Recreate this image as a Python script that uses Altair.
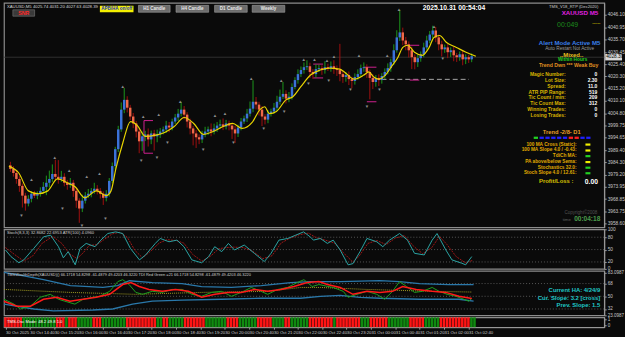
import altair as alt
import pandas as pd

# ---------------- main price data (XAUUSD M5) ----------------
first_open = 3983.0
closes = [
    3981.5, 3979.8, 3977.3, 3974.4, 3970.3, 3967.0, 3969.0, 3971.1, 3970.3, 3971.1,
    3972.3, 3974.0, 3975.7, 3977.3, 3979.4, 3978.2, 3977.3, 3978.2, 3975.7, 3974.8,
    3975.7, 3972.3, 3968.2, 3964.9, 3968.2, 3970.3, 3971.1, 3972.3, 3973.2, 3972.3,
    3971.1, 3969.4, 3971.1, 3976.5, 3982.7, 3989.8, 3998.1, 4006.4, 4010.5, 4007.2,
    4003.5, 4000.6, 3997.2, 3993.1, 3995.2, 3996.0, 3993.9, 3996.4, 3995.2, 3996.0,
    3997.2, 3998.1, 3999.7, 3998.9, 4001.4, 4003.1, 4004.7, 4006.4, 4004.3, 4001.4,
    3998.5, 3996.4, 3994.8, 3993.9, 3996.0, 3997.2, 3998.1, 3997.2, 3998.5, 3999.7,
    4000.2, 3999.3, 4000.6, 3999.7, 3998.1, 3996.4, 3998.9, 4001.4, 4002.7, 4004.7,
    4006.8, 4009.7, 4008.5, 4006.4, 4003.5, 4002.2, 4004.7, 4005.6, 4007.2, 4009.7,
    4011.8, 4013.0, 4011.0, 4011.8, 4015.9, 4018.8, 4021.3, 4023.0, 4024.2, 4024.6,
    4022.2, 4021.3, 4023.4, 4023.8, 4023.0, 4024.2, 4023.8, 4024.6, 4023.4, 4023.0,
    4021.3, 4020.1, 4020.9, 4019.2, 4018.4, 4020.1, 4021.3, 4023.8, 4024.2, 4022.2,
    4019.7, 4018.0, 4019.7, 4018.8, 4020.5, 4022.2, 4023.8, 4026.3, 4031.3, 4036.7,
    4038.8, 4035.4, 4033.8, 4031.3, 4028.4, 4026.3, 4028.0, 4029.6, 4032.5, 4035.4,
    4037.9, 4039.6, 4036.7, 4033.8, 4031.7, 4032.5, 4030.5, 4031.3, 4029.2, 4028.4,
    4029.6, 4027.5, 4028.4, 4027.5, 4028.8,
]
wick_up = [
    1.5, 1.2, 1.0, 1.2, 1.0, 1.2, 1.5, 1.0, 1.2, 1.0,
    1.5, 2.0, 3.0, 3.5, 4.0, 6.0, 7.0, 2.5, 1.5, 1.2,
    2.0, 1.2, 1.0, 1.0, 2.5, 1.5, 2.0, 1.2, 2.5, 1.5,
    1.2, 1.0, 1.5, 1.2, 1.5, 1.0, 1.5, 3.0, 5.0, 1.5,
    1.2, 1.5, 1.0, 1.2, 2.0, 1.5, 2.5, 1.2, 1.5, 2.0,
    1.5, 1.2, 2.0, 1.5, 1.2, 1.5, 2.0, 3.3, 1.5, 1.0,
    1.2, 1.0, 1.5, 1.2, 1.5, 2.0, 1.2, 2.5, 2.0, 1.5,
    2.0, 2.5, 1.5, 1.2, 1.0, 1.5, 1.2, 1.5, 1.2, 2.0,
    3.0, 9.0, 2.0, 1.2, 1.5, 1.0, 1.5, 1.2, 2.0, 2.5,
    3.0, 5.0, 1.5, 2.0, 1.5, 1.2, 2.0, 1.5, 2.0, 2.5,
    1.5, 1.2, 2.0, 1.5, 1.2, 2.5, 1.5, 2.0, 2.5, 1.5,
    11.0, 1.5, 1.2, 1.5, 1.0, 1.5, 2.0, 1.5, 2.0, 1.2,
    1.0, 1.5, 1.2, 1.5, 1.2, 1.5, 2.0, 1.5, 2.5, 3.0,
    9.5, 2.0, 1.5, 1.2, 1.5, 1.2, 1.5, 1.2, 2.0, 2.0,
    1.5, 2.0, 1.5, 1.2, 1.5, 1.2, 1.5, 1.2, 1.5, 1.0,
    1.2, 1.5, 1.2, 1.0, 1.2,
]
wick_dn = [
    1.2, 1.5, 2.0, 2.5, 5.0, 3.0, 1.2, 1.5, 1.0, 1.5,
    1.2, 1.0, 3.5, 2.0, 1.2, 1.5, 2.0, 1.2, 1.5, 2.0,
    1.2, 2.5, 3.0, 6.0, 1.5, 1.2, 1.0, 1.5, 1.2, 1.5,
    2.0, 3.0, 1.5, 1.2, 1.0, 1.5, 1.2, 1.0, 1.5, 2.0,
    1.5, 2.0, 2.5, 5.0, 4.0, 2.0, 3.0, 2.0, 6.0, 2.5,
    1.5, 1.2, 1.5, 2.0, 1.2, 1.0, 1.5, 1.2, 2.0, 2.5,
    2.5, 5.0, 4.5, 2.0, 1.5, 1.2, 1.5, 2.0, 1.2, 1.5,
    1.2, 1.5, 1.2, 2.0, 4.0, 4.0, 1.5, 1.2, 1.0, 1.5,
    1.2, 1.5, 2.0, 2.5, 4.0, 2.0, 1.5, 1.2, 1.0, 1.5,
    1.2, 1.0, 2.0, 1.5, 1.2, 1.0, 1.5, 1.2, 1.5, 1.2,
    2.5, 2.0, 1.5, 1.2, 2.0, 1.5, 1.2, 1.5, 2.0, 2.5,
    3.0, 2.5, 2.0, 2.5, 3.0, 1.5, 1.2, 1.0, 1.5, 2.5,
    9.0, 3.0, 2.0, 2.5, 1.5, 1.2, 1.0, 1.5, 1.2, 1.0,
    1.5, 2.0, 2.5, 3.0, 5.0, 3.0, 2.0, 1.5, 1.2, 1.0,
    1.2, 1.5, 2.0, 2.5, 3.0, 1.5, 2.5, 2.0, 2.5, 2.0,
    1.5, 2.5, 2.0, 1.5, 1.2,
]

# yellow moving average (key points: bar index, price)
ma_idx = [-0.5, 2.8, 6, 9.3, 12.5, 15.7, 19, 21.6, 24.8, 28.7, 32, 33.6, 35.2, 37.5, 40.1,
          42.4, 45, 48.2, 51.5, 54.7, 58, 61.2, 64.4, 67.7, 71, 74.2, 77.4, 80.7, 83.3, 84.9,
          86.5, 88.8, 92, 94.3, 96.9, 100.2, 103.4, 106.7, 109.9, 111.5, 114.8, 118, 119.6,
          121.3, 122.9, 125.2, 127.1, 129.4, 131, 132.6, 134.9, 137.5, 139.8, 141.4, 143.3,
          145.6, 148.9, 152.1, 155.4]
ma_val = [3982.7, 3979.8, 3972.3, 3971.1, 3972.3, 3977.3, 3975.7, 3974.0, 3969.4, 3972.3,
          3970.3, 3972.3, 3981.5, 3992.3, 4001.4, 3999.7, 3995.2, 3995.6, 3996.8, 3999.3,
          4003.1, 4000.6, 3996.0, 3997.2, 3999.3, 4000.6, 3998.5, 4001.0, 4006.4, 4007.6,
          4004.7, 4005.6, 4010.5, 4011.8, 4015.9, 4020.9, 4023.0, 4023.8, 4023.4, 4022.2,
          4019.2, 4020.9, 4022.2, 4020.1, 4019.2, 4020.9, 4024.2, 4028.4, 4032.5, 4033.4,
          4030.5, 4029.2, 4032.5, 4036.7, 4037.5, 4034.6, 4032.5, 4030.5, 4028.8]

# fractal arrows
up_idx = [7, 14.8, 19.6, 25.5, 29.7, 37.5, 44.3, 49.5, 56.7, 68.3, 71.6, 80.4, 90.4, 97.9,
          101.5, 105.7, 108, 116.4, 125.8, 129.7, 141.4]
up_price = [3976.9, 3986.0, 3980.6, 3978.2, 3979.4, 4015.9, 4003.5, 4004.3, 4009.7, 4003.9,
            4004.7, 4019.2, 4018.4, 4027.1, 4027.1, 4026.7, 4028.4, 4028.8, 4028.8, 4048.3, 4041.2]
dn_idx = [3.7, 17.4, 23.9, 31.7, 43.7, 48.9, 52.4, 64.4, 74.5, 84.6, 91.4, 99.5, 106.3,
          113.5, 119, 123.2, 144.3]
dn_price = [3961.6, 3964.5, 3957.4, 3960.7, 3984.8, 3986.0, 3992.3, 3989.4, 3992.3, 3998.1,
            4005.6, 4017.2, 4018.4, 4014.7, 4007.6, 4014.7, 4027.5]

# magenta range markers
seg_x1 = [44.6, 44.6, 101.1, 101.1, 118.0, 119.0, 132.6, 133.3]
seg_x2 = [47.6, 47.6, 104.4, 104.4, 122.2, 122.2, 136.5, 136.5]
seg_y = [4001.8, 3988.1, 4025.5, 4019.7, 4024.2, 4009.7, 4033.4, 4018.8]

dash_from, dash_to, dash_level = 123.9, 153.1, 4019.1
current_price = 4028.39

price_ticks = [4046.10, 4040.95, 4035.70, 4030.45, 4025.40, 4020.30, 4015.20, 4010.10,
               4004.80, 3999.75, 3994.65, 3989.40, 3984.30, 3979.20, 3973.95, 3968.85,
               3963.75, 3958.60]

# ---------------- stochastic ----------------
stoch_idx = [0, 1.8, 4.4, 6, 9.3, 12.5, 14.8, 17.4, 19, 20.6, 22.9, 24.5, 26.5, 29.4, 31.3,
             33.6, 36.2, 38.5, 41, 44, 46, 49.2, 50.8, 53.7, 56.3, 58.6, 61.2, 64.4, 66.7,
             68.7, 71, 73.2, 75.2, 78.4, 81.7, 85, 87.2, 89.8, 92.7, 95.3, 97.9, 100.2,
             101.1, 103.4, 105.7, 107.6, 109.9, 112.5, 114.1, 116.4, 118.7, 121.9, 123.9,
             126.1, 129.4, 132, 134.3, 137.5, 140.1, 141.7, 144.6, 146.6, 149.8, 151.1, 153.1]
stoch_k = [49, 33, 18, 25, 53, 81, 85, 57, 30, 45, 13, 53, 65, 57, 73, 89, 93, 89, 53, 25,
           37, 65, 77, 69, 73, 57, 25, 18, 33, 57, 45, 65, 49, 61, 41, 21, 41, 73, 77, 85,
           93, 80, 73, 77, 65, 73, 49, 13, 16, 45, 77, 69, 57, 73, 89, 73, 41, 37, 73, 89,
           49, 25, 17, 13, 33]
sig_idx = [0, 3, 6, 9, 12, 15.5, 18.5, 21, 23.5, 25.5, 27.5, 30, 32.5, 35, 37.5, 40, 42.5,
           45, 47.5, 50.5, 53, 56, 58.5, 61.5, 64.5, 67.5, 70, 72.5, 75, 78, 81, 84.5, 87.5,
           90.5, 93.5, 96.5, 99.5, 102, 105, 108, 111, 114, 116, 119, 122, 125, 128, 131,
           134, 137, 140, 142.5, 145, 148, 151, 153.5]
sig_d = [55, 38, 22, 35, 65, 82, 65, 40, 28, 42, 60, 62, 75, 88, 92, 80, 48, 30, 45, 66,
         74, 72, 66, 38, 22, 35, 52, 55, 56, 55, 47, 28, 35, 66, 78, 86, 90, 79, 73, 66,
         42, 20, 33, 65, 72, 62, 78, 84, 58, 40, 55, 82, 62, 33, 18, 24]

# ---------------- TDI ----------------
up_band_idx = [-0.5, 6, 12.5, 21.3, 32, 36.8, 40.7, 48.2, 58, 64.4, 74.2, 84, 93.7, 100.2,
               109.9, 122.9, 129.4, 135.9, 145.6, 153.7]
up_band = [84, 79, 73.5, 65.2, 62.5, 65, 72, 69.4, 68, 63.8, 62.5, 65.2, 69.4, 70.8, 70.8,
           72.2, 70.8, 68, 66.6, 66.6]
lo_band_idx = [-0.5, 9.3, 15.7, 28.7, 35.2, 41.7, 48.2, 58, 71, 84, 96.9, 103.4, 109.9,
               116.4, 122.9, 135.9, 148.9, 153.7]
lo_band = [38.9, 32, 29.2, 30.6, 32, 39, 43, 44.5, 45.8, 47.2, 47.2, 50, 51.4, 48.6, 47.2,
           45.8, 45.8, 43]
rsi_idx = [-0.5, 2.8, 4.9, 8.2, 11.4, 14.7, 17.4, 19.5, 22.8, 25.5, 28.7, 30.9, 34.2, 36.9,
           38.5, 40.6, 42.8, 45, 48.2, 51.5, 54.7, 58, 61.2, 64.4, 67.7, 70.9, 74.2, 77.4,
           80.7, 83.9, 86.1, 89.4, 92.6, 95.8, 98, 100.7, 102.9, 107.6, 110.9, 112.5, 115.4,
           118.7, 121.9, 124.5, 127.1, 129.4, 131.7, 134.3, 136.9, 140.1, 142.4, 145, 147.9,
           150.5, 152.1, 153.1]
rsi_val = [45.8, 38.9, 32, 36, 48.6, 52.8, 45.8, 43, 38.9, 45.8, 48.6, 50, 57, 70.8, 73.5,
           66.6, 55.5, 52.8, 57, 55.5, 59.7, 59.7, 52.8, 50, 55.5, 57, 50, 55.5, 62.5, 57,
           52.8, 59.7, 62.5, 69.4, 73.5, 63.8, 66.6, 62.5, 57, 48.6, 52.8, 57, 52.8, 45.8,
           57, 70.8, 63.8, 55.5, 57, 62.5, 57, 52.8, 50, 45.8, 43, 47]
tsig_idx = [-0.5, 3.8, 8.2, 12.5, 16.8, 21.2, 25.5, 29.8, 34.2, 38.5, 41.2, 43.9, 47.1, 51.5,
            55.8, 60.1, 64.4, 68.8, 73.1, 77.4, 81.8, 86.1, 90.4, 94.7, 99.1, 102.9, 105.7,
            109.9, 114.1, 118.7, 122.9, 127.1, 130.4, 134.9, 140.1, 144.6, 148.9, 153.1]
tsig_val = [43, 36, 36, 45.8, 48.6, 43, 45.8, 48.6, 52.8, 66.6, 69.4, 63.8, 59.7, 57, 59.7,
            57, 48.6, 52.8, 55.5, 55.5, 59.7, 57, 59.7, 63.8, 69.4, 70.8, 66.6, 62.5, 52.8,
            57, 55.5, 57, 63.8, 59.7, 57, 55.5, 50, 47]
mid_idx = [-0.5, 21.2, 42.8, 64.4, 86.1, 96.9, 103.4, 118.7, 140.1, 153.1]
mid_val = [59.7, 55.5, 52.8, 55.5, 57, 62.5, 62.5, 59.7, 57, 56]

# ---------------- oscillator histogram (runs, starting red) ----------------
osc_runs = [6, 11, 3, 1, 3, 5, 3, 8, 10, 2, 2, 5, 7, 7, 4, 6, 5, 4, 2, 6, 8, 1, 8, 3, 6, 7,
            5, 5, 10, 2]
osc_states = ["red", "green"]

time_labels = ["30 Oct 2025", "30 Oct 14:40", "30 Oct 15:20", "30 Oct 16:00", "30 Oct 16:40",
               "30 Oct 17:20", "30 Oct 18:00", "30 Oct 18:40", "30 Oct 19:20", "30 Oct 20:00",
               "30 Oct 20:40", "30 Oct 21:20", "30 Oct 22:00", "30 Oct 22:40", "30 Oct 23:20",
               "31 Oct 00:00", "31 Oct 00:40", "31 Oct 01:20", "31 Oct 02:00", "31 Oct 02:40"]
bars_per_label = 8

stats_labels = ["Magic Number:", "Lot Size:", "Spread:", "ATR PIP Range:", "Tic Count / min:",
                "Tic Count Max:", "Winning Trades:", "Losing Trades:"]
stats_values = ["0", "2.30", "11.0", "519", "209", "312", "0", "0"]
ind_labels = ["100 MA Cross (Static):", "100 MA Slope 4.0 / -0.43:", "TdiCh MA:",
              "PA above/below Sema:", "Stochastics 32.0:", "Stoch Slope 4.0 / 12.61:"]
ind_colors = ["#f0f000", "#f0f000", "#22d022", "#f0f000", "#22d022", "#22d022"]
trend_dash_colors = ["#22d022", "#2020ff", "#2020ff", "#2020ff", "#2020ff", "#2020ff",
                     "#ff2020", "#ff2020", "#2020ff", "#2020ff"]

# colours
WICK_COL = {"up": "#1ea81e", "down": "#b01010"}
BODY_COL = {"up": "#3b72d8", "down": "#f06848"}
OSC_COL = {"red": "#ff1414", "green": "#0f8a0f"}

# ---------------- build tables ----------------
opens = [first_open] + closes[:-1]
n = len(closes)
candles = pd.DataFrame({
    "i": list(range(n)),
    "o": opens,
    "c": closes,
})
candles["hi"] = [max(o, c) + u for o, c, u in zip(opens, closes, wick_up)]
candles["lo"] = [min(o, c) - d for o, c, d in zip(opens, closes, wick_dn)]
candles["dir"] = ["up" if c >= o else "down" for o, c in zip(opens, closes)]
candles["wcol"] = candles["dir"].map(WICK_COL)
candles["bcol"] = candles["dir"].map(BODY_COL)

osc_col = []
for k, r in enumerate(osc_runs):
    osc_col += [osc_states[k % 2]] * r
osc = pd.DataFrame({"i": list(range(len(osc_col))), "state": osc_col})
osc["col"] = osc["state"].map(OSC_COL)
osc["x1"] = osc["i"] - 0.42
osc["x2"] = osc["i"] + 0.42
osc["b0"] = -0.33
osc["b1"] = 1.33

W = 607
XDOM = [-0.5, 196.6]
FONT = "Liberation Sans"
AX_LABEL = "#c8c8c8"


def xs():
    return alt.Scale(domain=XDOM, nice=False, zero=False)


def T(s, px, py, color, size=5.0, align="left", bold=False):
    return alt.Chart(pd.DataFrame({"t": [s]})).mark_text(
        align=align, baseline="middle", color=color, fontSize=size, font=FONT,
        fontWeight="bold" if bold else "normal"
    ).encode(x=alt.value(px), y=alt.value(py), text="t:N")


def B(x1, x2, y1, y2, fill, stroke="#0a0a0a", sw=0.0):
    return alt.Chart(pd.DataFrame({"a": [0]})).mark_rect(
        fill=fill, stroke=stroke, strokeWidth=sw
    ).encode(x=alt.value(x1), x2=alt.value(x2), y=alt.value(y1), y2=alt.value(y2))


# ---------------- main panel ----------------
ysc = alt.Scale(domain=[3957.0, 4051.2], nice=False, zero=False)
yax = alt.Axis(orient="right", values=price_ticks, format=".2f", title=None, grid=False,
               labelFontSize=4.8, tickSize=2, labelPadding=1, labelColor=AX_LABEL)

base = alt.Chart(candles)
price_line = alt.Chart(pd.DataFrame({"p": [current_price]})).mark_rule(
    color="#3a3a3a", strokeWidth=0.8).encode(y=alt.Y("p:Q", scale=ysc, axis=yax))
wicks = base.mark_rule(strokeWidth=0.9).encode(
    x=alt.X("i:Q", scale=xs(), axis=None),
    y=alt.Y("lo:Q", scale=ysc, axis=yax), y2="hi:Q",
    color=alt.Color("wcol:N", scale=None))
bodies = base.mark_bar(size=2.5).encode(
    x=alt.X("i:Q", scale=xs(), axis=None),
    y=alt.Y("o:Q", scale=ysc, axis=yax), y2="c:Q",
    fill=alt.Fill("bcol:N", scale=None))
ma = alt.Chart(pd.DataFrame({"i": ma_idx, "v": ma_val})).mark_line(
    color="#e8d400", strokeWidth=1.2, interpolate="monotone").encode(
    x=alt.X("i:Q", scale=xs(), axis=None), y=alt.Y("v:Q", scale=ysc, axis=yax))
dashed = alt.Chart(pd.DataFrame({"a": [dash_from], "b": [dash_to], "p": [dash_level]})).mark_rule(
    color="#a8a8a8", strokeDash=[5, 3], strokeWidth=1).encode(
    x=alt.X("a:Q", scale=xs(), axis=None), x2="b:Q", y=alt.Y("p:Q", scale=ysc, axis=yax))
segs = alt.Chart(pd.DataFrame({"a": seg_x1, "b": seg_x2, "p": seg_y})).mark_rule(
    color="#d02090", strokeWidth=1).encode(
    x=alt.X("a:Q", scale=xs(), axis=None), x2="b:Q", y=alt.Y("p:Q", scale=ysc, axis=yax))
seg_v = alt.Chart(pd.DataFrame({"a": [seg_x1[0]], "p": [seg_y[0]], "q": [seg_y[1]]})).mark_rule(
    color="#d02090", strokeWidth=1).encode(
    x=alt.X("a:Q", scale=xs(), axis=None), y=alt.Y("p:Q", scale=ysc, axis=yax), y2="q:Q")
upm = alt.Chart(pd.DataFrame({"i": up_idx, "p": up_price, "t": ["▲"] * len(up_idx)})).mark_text(
    color="#8c8c8c", fontSize=4.5).encode(
    x=alt.X("i:Q", scale=xs(), axis=None), y=alt.Y("p:Q", scale=ysc, axis=yax), text="t:N")
dnm = alt.Chart(pd.DataFrame({"i": dn_idx, "p": dn_price, "t": ["▼"] * len(dn_idx)})).mark_text(
    color="#8c8c8c", fontSize=4.5).encode(
    x=alt.X("i:Q", scale=xs(), axis=None), y=alt.Y("p:Q", scale=ysc, axis=yax), text="t:N")
pbox = alt.Chart(pd.DataFrame({"a": [current_price - 1.35], "b": [current_price + 1.35]})).mark_rect(
    fill="#d8d8d8").encode(x=alt.value(608), x2=alt.value(625),
                           y=alt.Y("a:Q", scale=ysc, axis=yax), y2="b:Q")
ptxt = alt.Chart(pd.DataFrame({"p": [current_price], "t": [f"{current_price:.2f}"]})).mark_text(
    color="#000000", fontSize=4.8, font=FONT, align="left").encode(
    x=alt.value(609), y=alt.Y("p:Q", scale=ysc, axis=yax), text="t:N")

ann = [
    T("XAUUSD,M5  4025.74 4031.20 4027.63 4028.39", 3, 4, "#d8d8d8", 4.3),
    B(9, 31, 7, 13.5, "#3a3a3a", "#7a7a7a", 0.6),
    T("SNR", 20, 10.3, "#ff2a2a", 5.3, "center", True),
    B(97, 131, 3, 9.5, "#f4f000"),
    T("APB/HA on/off", 114, 6.3, "#2030c0", 4.6, "center", True),
]
for lab, x1, x2 in [("H1 Candle", 136, 168), ("H4 Candle", 174, 207),
                    ("D1 Candle", 213, 246), ("Weekly", 251, 284)]:
    ann.append(B(x1, x2, 2.5, 9.5, "#6c6c6c", "#a0a0a0", 0.6))
    ann.append(T(lab, (x1 + x2) / 2, 6.2, "#e8e8e8", 4.6, "center", True))
ann += [
    T("2025.10.31 00:54:04", 455, 5.5, "#ffffff", 6.8, "center", True),
    T("TMS_V18_RTP (Dec2020)", 601, 4, "#d0d0d0", 4.2, "right"),
    T("XAUUSD M5", 601, 10.5, "#e020e0", 6.3, "right", True),
    T("00:049", 570, 22, "#1c8c1c", 7, "center"),
    T("......", 599, 19, "#c8b400", 5, "center", True),
    T("Alert Mode Active M5", 572, 41, "#3a7ee8", 6.2, "center", True),
    T("Auto Restart Not Active", 572, 46.3, "#9a9a9a", 4.8, "center"),
    T("..Mixed..", 574, 52.7, "#e8c020", 6, "center", True),
    T("Within Hours", 575, 57.5, "#22d022", 4.8, "center", True),
    T("Trend Dwn *** Weak Buy", 571, 63, "#e09020", 5.2, "center", True),
]
stat_y = [72.3, 78.3, 84.3, 90, 95.7, 101.3, 107.3, 113]
for lab, val, yy in zip(stats_labels, stats_values, stat_y):
    ann.append(T(lab, 568, yy, "#d8b400", 5, "right", True))
    ann.append(T(val, 600, yy, "#ffffff", 5, "right", True))
ann.append(T("Trend -2/8- D1", 564, 130.7, "#e8a028", 5.8, "center", True))
for k, colr in enumerate(trend_dash_colors):
    x0 = 535.7 + 5.9 * k
    ann.append(B(x0, x0 + 4.3, 135.3, 137.6, colr))
ind_y = [143.3, 149.3, 155, 161, 166.7, 172.3]
for lab, colr, yy in zip(ind_labels, ind_colors, ind_y):
    ann.append(T(lab, 579, yy, "#e0aa00", 4.8, "right", True))
    ann.append(B(588, 593, yy - 1.1, yy + 1.1, colr))
ann += [
    T("Profit/Loss :", 541, 180.3, "#d8c000", 6, "left", True),
    T("0.00", 594, 181, "#ffffff", 6.8, "center", True),
    T("Copyright©2008", 600, 212.8, "#505050", 4.6, "right"),
    T("time", 565, 219.5, "#606060", 4.4, "left"),
    T("00:04:18", 603, 219, "#4a9a4a", 6.6, "right", True),
]

main = alt.layer(price_line, dashed, segs, seg_v, wicks, bodies, ma, upm, dnm, pbox, ptxt,
                 *ann).properties(width=W, height=227)

# ---------------- stochastic panel ----------------
ssc = alt.Scale(domain=[3.2, 99.2], nice=False, zero=False)
sax = alt.Axis(orient="right", values=[99, 80, 50, 20, 4], title=None, grid=False,
               labelExpr="datum.value == 99 ? '100' : datum.value == 4 ? '0' : datum.value + ''",
               labelFontSize=4.8, tickSize=2, labelPadding=1, labelColor=AX_LABEL)
s_grid = alt.Chart(pd.DataFrame({"v": [80, 50, 20]})).mark_rule(
    color="#6a6a6a", strokeDash=[1, 2], strokeWidth=0.8).encode(
    y=alt.Y("v:Q", scale=ssc, axis=sax))
s_sig = alt.Chart(pd.DataFrame({"i": sig_idx, "v": sig_d})).mark_line(
    color="#b01818", strokeWidth=0.9, strokeDash=[2, 1]).encode(
    x=alt.X("i:Q", scale=xs(), axis=None), y=alt.Y("v:Q", scale=ssc, axis=sax))
s_k = alt.Chart(pd.DataFrame({"i": stoch_idx, "v": stoch_k})).mark_line(
    color="#2aa4a4", strokeWidth=1).encode(
    x=alt.X("i:Q", scale=xs(), axis=None), y=alt.Y("v:Q", scale=ssc, axis=sax))
stoch = alt.layer(
    s_grid, s_sig, s_k,
    T("Stoch(8,3,3) 32.8682 22.6953   ATR(100) 4.0960", 3, 4, "#d0d0d0", 4.2),
).properties(width=W, height=40)

# ---------------- TDI panel ----------------
tsc = alt.Scale(domain=[23.0, 86.0], nice=False, zero=False)
tax = alt.Axis(orient="right", values=[83.0987, 68, 50, 32, 23.0987], title=None, grid=False,
               labelExpr="datum.value % 1 == 0 ? datum.value + '' : format(datum.value, '.4f')",
               labelFontSize=4.6, tickSize=2, labelPadding=1, labelColor=AX_LABEL)
t_grid = alt.Chart(pd.DataFrame({"v": [68, 50, 32]})).mark_rule(
    color="#6a6a6a", strokeDash=[1, 2], strokeWidth=0.8).encode(
    y=alt.Y("v:Q", scale=tsc, axis=tax))


def tline(ix, vals, color, width, dash=None):
    kw = dict(color=color, strokeWidth=width)
    if dash:
        kw["strokeDash"] = dash
    return alt.Chart(pd.DataFrame({"i": ix, "v": vals})).mark_line(**kw).encode(
        x=alt.X("i:Q", scale=xs(), axis=None), y=alt.Y("v:Q", scale=tsc, axis=tax))


tdi = alt.layer(
    t_grid,
    tline(up_band_idx, up_band, "#2a78aa", 1.3),
    tline(lo_band_idx, lo_band, "#2a78aa", 1.3),
    tline(mid_idx, mid_val, "#a09a20", 1, [1, 1]),
    tline(rsi_idx, rsi_val, "#1ea01e", 1),
    tline(tsig_idx, tsig_val, "#ff1a1a", 1.5),
    T("TMSWealthDepth(XAUUSD)() 66.1718 54.8298 -61.4879 49.4203 46.3220   TDI Red Green =21 "
      "66.1718 54.8298 -61.4879 49.4203 46.3220", 3, 4, "#d0d0d0", 4.0),
    T("Current HA: 4/24/9", 603, 19.5, "#20c8c8", 6, "right", True),
    T("Cur. Slope: 3.2 [cross]", 603, 27, "#20c8c8", 6, "right", True),
    T("Prev. Slope: 1.5", 603, 35, "#20c8c8", 6, "right", True),
).properties(width=W, height=45)

# ---------------- oscillator histogram ----------------
label_expr = "[" + ",".join("'" + s + "'" for s in time_labels) + "][round(datum.value / 8)]"
oxax = alt.Axis(values=[k * bars_per_label for k in range(len(time_labels))], title=None,
                labelExpr=label_expr, labelAlign="left", labelFontSize=4.3, labelPadding=1,
                tickSize=2, labelOverlap=False, grid=False, labelColor=AX_LABEL, labelFlush=False)
osc_chart = alt.layer(
    alt.Chart(osc).mark_rect().encode(
        x=alt.X("x1:Q", scale=xs(), axis=oxax), x2="x2:Q",
        y=alt.Y("b0:Q", scale=alt.Scale(domain=[-0.33, 1.33], nice=False, zero=False),
                axis=alt.Axis(orient="right", values=[1, 0], format="d", title=None, grid=False,
                              labelFontSize=4.6, tickSize=2, labelPadding=1, labelColor=AX_LABEL)),
        y2="b1:Q",
        fill=alt.Fill("col:N", scale=None)),
    T("TMS-Osc Mode: 48.2  49.8  1.0", 3, 4.5, "#ffffff", 4.2),
).properties(width=W, height=10)

chart = alt.vconcat(main, stoch, tdi, osc_chart, spacing=2, bounds="flush").properties(
    padding=0, background="#0a0a0a"
).configure_view(
    stroke="#8c8c8c", strokeWidth=1.2, fill="#0a0a0a"
).configure_axis(
    domainColor="#9a9a9a", tickColor="#9a9a9a", labelFont=FONT
)

chart.save("out.html", embed_options={"renderer": "svg", "actions": False})
